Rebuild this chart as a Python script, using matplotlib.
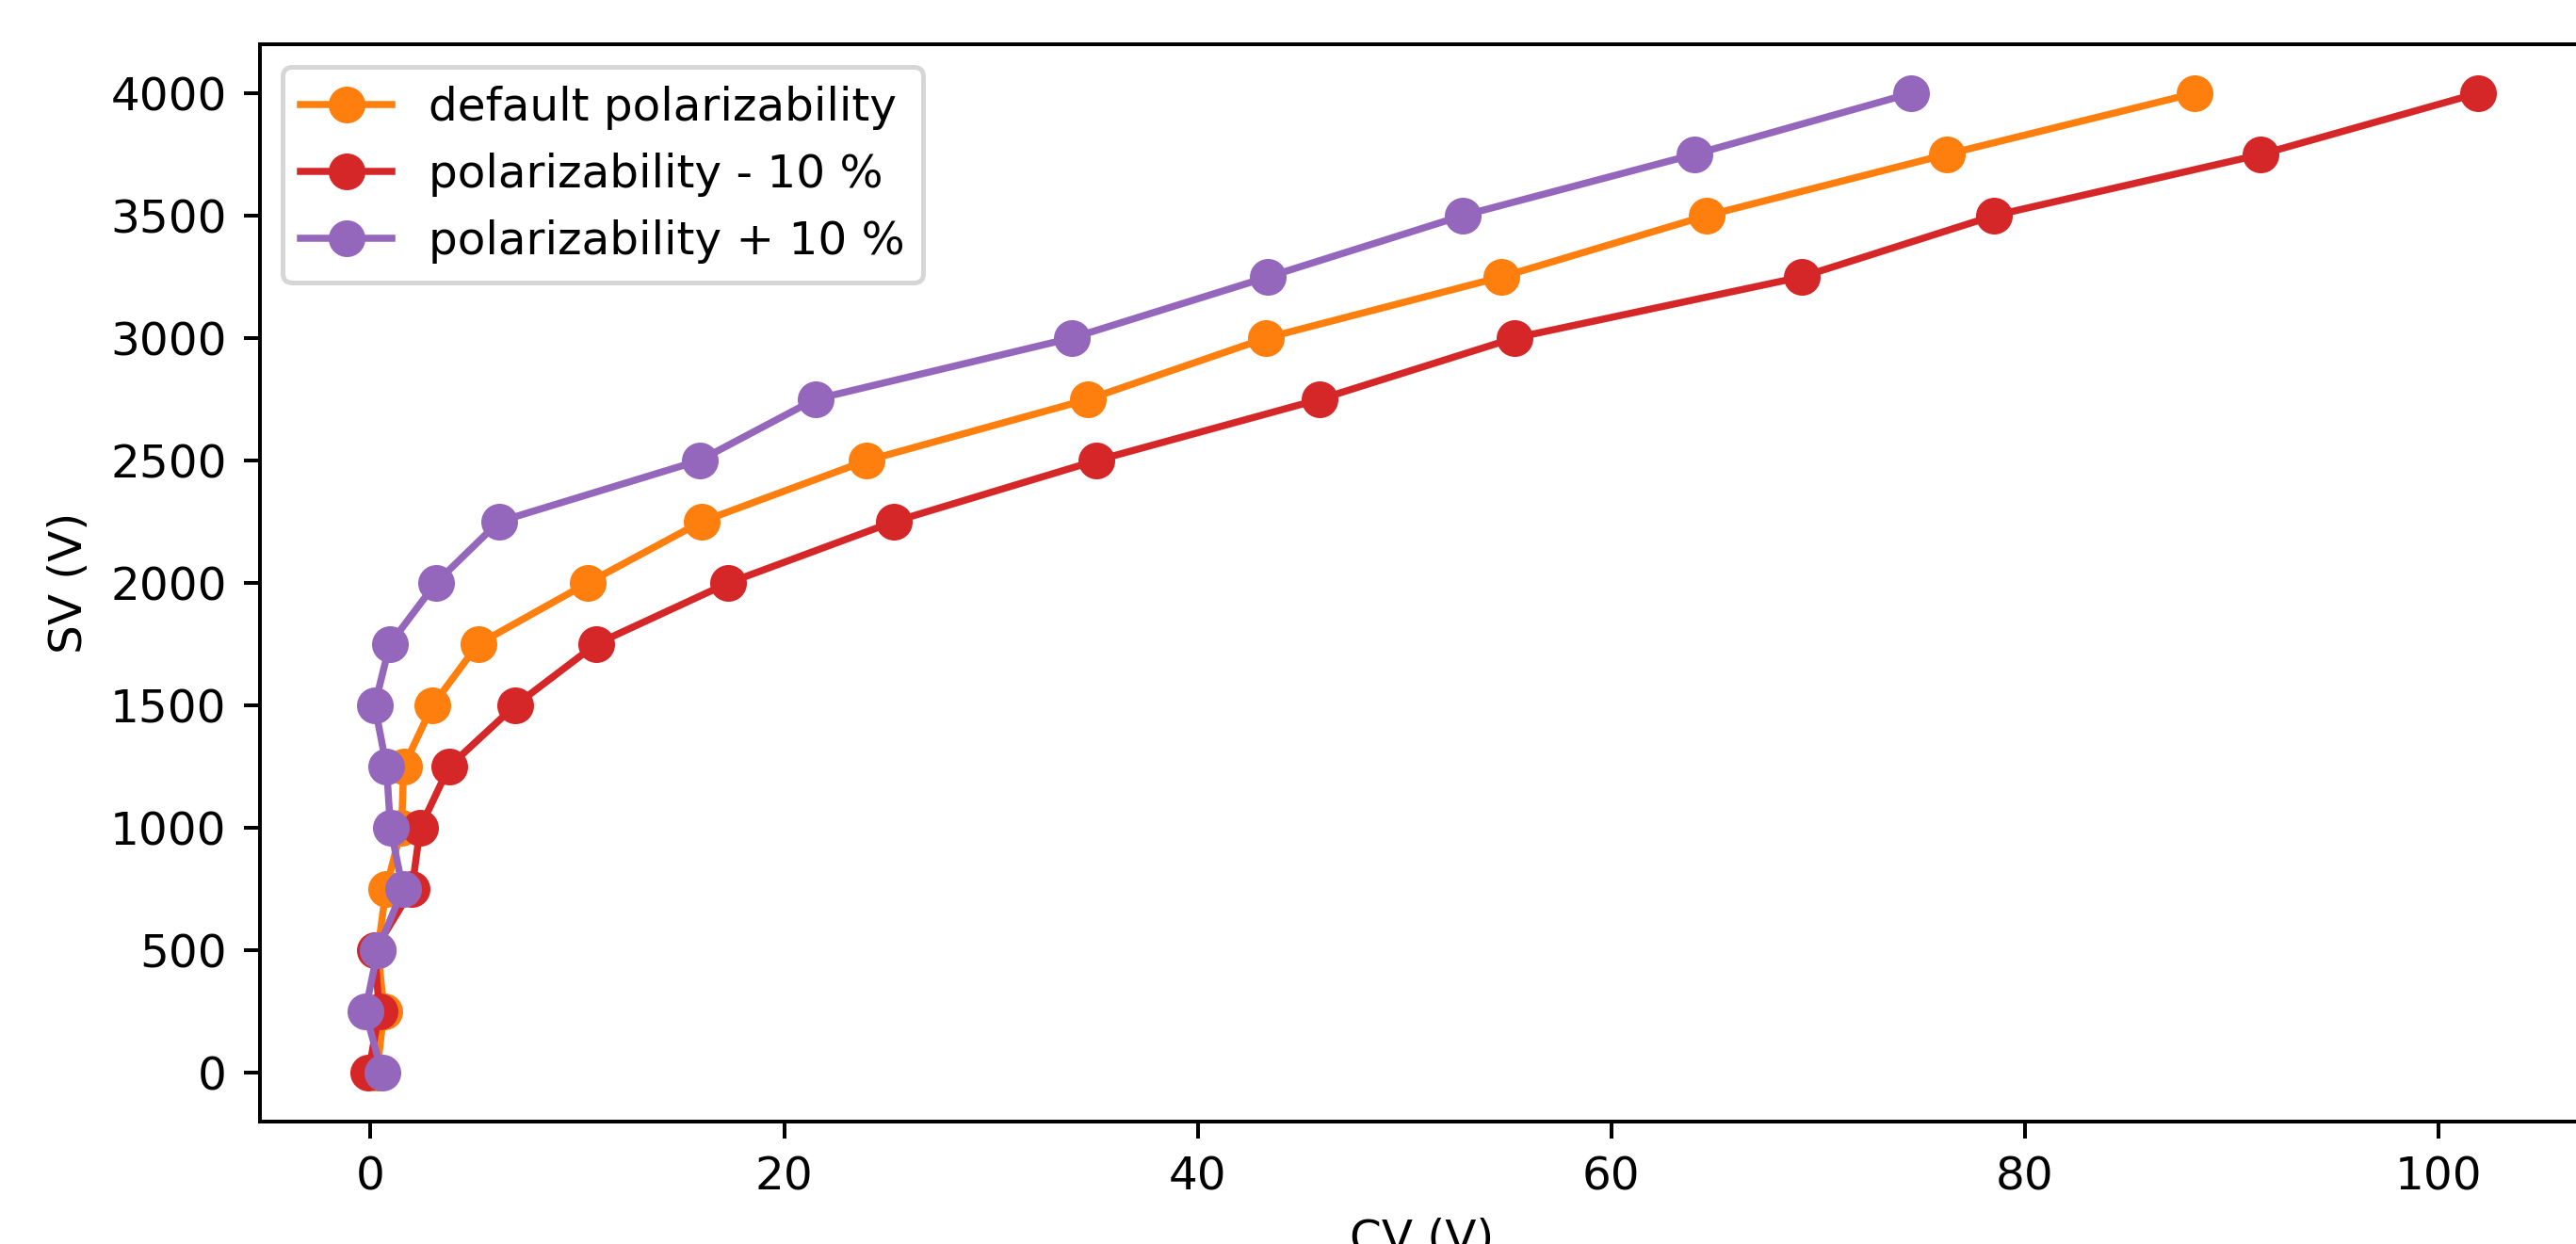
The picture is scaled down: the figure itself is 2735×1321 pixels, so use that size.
import numpy as np
import matplotlib
matplotlib.use('Agg')
import matplotlib.pyplot as plt

sv = [0, 250, 500, 750, 1000, 1250, 1500, 1750, 2000, 2250, 2500, 2750, 3000, 3250, 3500, 3750, 4000]

cv_default = [0.3, 0.65, 0.35, 0.75, 1.5, 1.6, 3.0, 5.2, 10.5, 16.0, 24.0, 34.7, 43.3, 54.7, 64.6, 76.2, 88.2]
cv_minus10 = [-0.1, 0.42, 0.2, 2.0, 2.4, 3.8, 7.0, 10.9, 17.3, 25.3, 35.1, 45.9, 55.3, 69.2, 78.5, 91.4, 101.9]
cv_plus10 = [0.55, -0.26, 0.35, 1.56, 0.96, 0.77, 0.2, 0.93, 3.16, 6.2, 15.9, 21.5, 33.9, 43.4, 52.8, 64.0, 74.5]

plt.rcParams['font.size'] = 9.7

dpi = 360
fig = plt.figure(figsize=(2735/dpi, 1321/dpi), dpi=dpi)
ax = fig.add_axes([275.6/2735, 130/1321, (2743-275.6)/2735, (1191-47)/1321])

ax.plot(cv_default, sv, marker='o', ms=6.8, color='tab:orange', label='default polarizability')
ax.plot(cv_minus10, sv, marker='o', ms=6.8, color='tab:red', label='polarizability - 10 %')
ax.plot(cv_plus10, sv, marker='o', ms=6.8, color='tab:purple', label='polarizability + 10 %')

ax.set_xlabel('CV (V)')
ax.set_ylabel('SV (V)')
ax.legend(loc='upper left')

fig.savefig('out.png', dpi=dpi)
